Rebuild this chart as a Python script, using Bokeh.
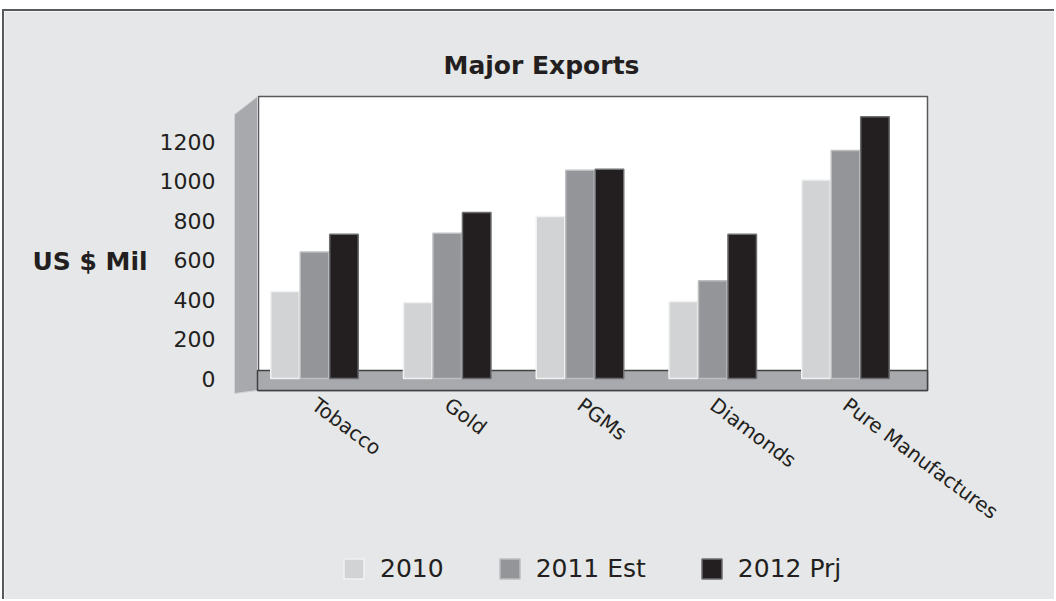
from bokeh.plotting import figure
from bokeh.models import (Range1d, FixedTicker, BoxAnnotation, PolyAnnotation,
                          Label, Legend, LegendItem, ColumnDataSource)
from bokeh.transform import dodge
from bokeh.embed import file_html
from bokeh.resources import INLINE

# ---------------- data ----------------
categories = ["Tobacco", "Gold", "PGMs", "Diamonds", "Pure Manufactures"]
y2010 = [440, 385, 820, 390, 1005]
y2011 = [640, 735, 1055, 495, 1155]
y2012 = [730, 840, 1060, 730, 1325]
series_names = ["2010", "2011 Est", "2012 Prj"]
y_ticks = [0, 200, 400, 600, 800, 1000, 1200]
title_text = "Major Exports"
y_label_text = "US $ Mil"

# ---------------- layout helpers (picture pixel -> data) ----------------
OX, OY = 4, 11               # canvas origin in the picture
W, H = 1050, 588
CAT0_PX, CAT_STEP_PX = 314.0, 132.75
ZERO_PX, PX_PER_UNIT = 378.0, 0.1975

def xd(px):
    return (px - CAT0_PX) / CAT_STEP_PX

def yd(py):
    return (ZERO_PX - py) / PX_PER_UNIT

FR_L, FR_R, FR_T, FR_B = OX, OX + W, OY, OY + H

src = ColumnDataSource(dict(x=list(range(len(categories))), y2010=y2010,
                            y2011=y2011, y2012=y2012))

p = figure(frame_width=W, frame_height=H, title=None,
           output_backend="svg", toolbar_location=None,
           x_range=Range1d(xd(FR_L), xd(FR_R)), y_range=Range1d(yd(FR_B), yd(FR_T)),
           min_border=0,
           background_fill_color="#e6e7e8", border_fill_color="#e6e7e8",
           outline_line_color=None)
p.margin = (OY - 2, 0, 0, OX - 2)
p.styles = {"border-top": "2px solid #58595b", "border-left": "2px solid #58595b"}
p.grid.visible = False

TXT = "#231f20"

# back wall (white panel)
p.add_layout(BoxAnnotation(left=xd(258), right=xd(927), bottom=yd(390), top=yd(96),
                           fill_color="white", fill_alpha=1.0, line_color="#58595b",
                           line_alpha=1.0, line_width=1.5, level="underlay"))
# side wall
p.add_layout(PolyAnnotation(xs=[xd(234), xd(257), xd(257), xd(234)],
                            ys=[yd(114), yd(96), yd(390), yd(393)],
                            fill_color="#a7a9ac", fill_alpha=1.0, line_color="#d1d3d4",
                            line_alpha=1.0, line_width=1, level="underlay"))
# floor
p.add_layout(BoxAnnotation(left=xd(257), right=xd(927), bottom=yd(390), top=yd(370),
                           fill_color="#a7a9ac", fill_alpha=1.0, line_color="#414042",
                           line_alpha=1.0, line_width=1.5, level="underlay"))

BW = 0.215
OFFS = 0.222
r1 = p.vbar(x=dodge("x", -OFFS, range=p.x_range), top="y2010", width=BW, bottom=0, source=src,
            fill_color="#d1d3d4", line_color="#f1f2f2", line_width=1.5)
r2 = p.vbar(x=dodge("x", 0.0, range=p.x_range), top="y2011", width=BW, bottom=0, source=src,
            fill_color="#939598", line_color="#bcbec0", line_width=1.5)
r3 = p.vbar(x=dodge("x", OFFS, range=p.x_range), top="y2012", width=BW, bottom=0, source=src,
            fill_color="#231f20", line_color="#6d6e71", line_width=1.5)

# y axis, fixed at the side wall
yax = p.yaxis[0]
yax.fixed_location = xd(231)
yax.ticker = FixedTicker(ticks=y_ticks)
yax.axis_line_color = None
yax.major_tick_line_color = None
yax.minor_tick_line_color = None
yax.major_tick_out = 0
yax.major_tick_in = 0
yax.major_label_standoff = 16
yax.major_label_text_font = "DejaVu Sans"
yax.major_label_text_font_size = "22px"
yax.major_label_text_color = TXT

# x axis, fixed at the floor's front edge
xax = p.xaxis[0]
xax.fixed_location = yd(394)
xax.ticker = FixedTicker(ticks=list(range(len(categories))))
xax.major_label_overrides = {i: c for i, c in enumerate(categories)}
xax.major_label_orientation = -0.64
xax.axis_line_color = None
xax.major_tick_line_color = None
xax.minor_tick_line_color = None
xax.major_tick_out = 0
xax.major_tick_in = 0
xax.major_label_standoff = 8
xax.major_label_text_font = "DejaVu Sans"
xax.major_label_text_font_size = "20px"
xax.major_label_text_color = TXT

# title
p.add_layout(Label(x=xd(443), y=yd(65), text=title_text, text_align="left",
                   text_baseline="middle", text_font="DejaVu Sans", text_font_style="bold",
                   text_font_size="25px", text_color=TXT))

# y axis label (horizontal)
p.add_layout(Label(x=xd(32), y=yd(261), text=y_label_text, text_align="left",
                   text_baseline="middle", text_font="DejaVu Sans", text_font_style="bold",
                   text_font_size="25px", text_color=TXT))

legend = Legend(items=[LegendItem(label=series_names[0], renderers=[r1]),
                       LegendItem(label=series_names[1], renderers=[r2]),
                       LegendItem(label=series_names[2], renderers=[r3])],
                orientation="horizontal", location=(337, 16),
                glyph_width=25, glyph_height=25, label_standoff=14, spacing=53,
                label_text_font="DejaVu Sans", label_text_font_size="25px",
                label_text_color=TXT, background_fill_alpha=0, border_line_color=None,
                margin=0, padding=4)
p.add_layout(legend)

open("out.html", "w").write(file_html(p, INLINE))
